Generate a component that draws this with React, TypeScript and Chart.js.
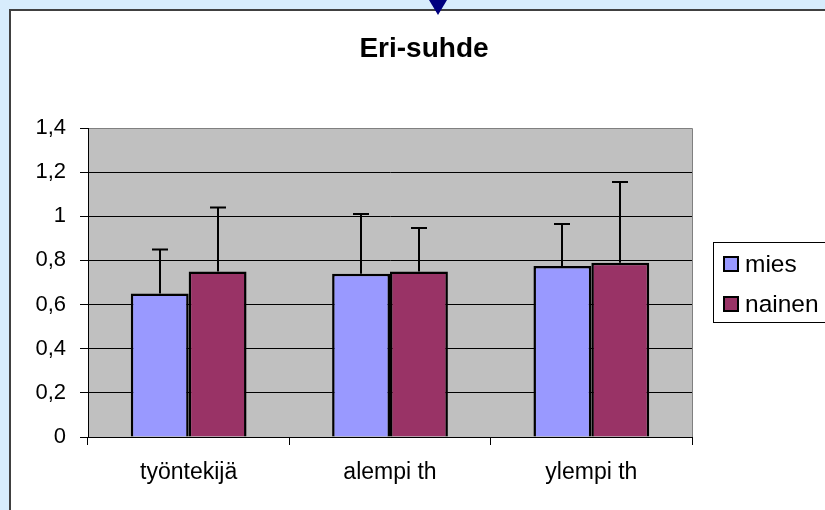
import React, { useEffect, useRef } from "react";
import { Chart, registerables } from "chart.js";

Chart.register(...registerables);

const categories = ["työntekijä", "alempi th", "ylempi th"];
const seriesNames = ["mies", "nainen"];
const miesValues = [0.65, 0.74, 0.775];
const nainenValues = [0.75, 0.75, 0.79];
const miesErrors = [0.2, 0.27, 0.19];
const nainenErrors = [0.29, 0.197, 0.365];
const yTicks = [0, 0.2, 0.4, 0.6, 0.8, 1, 1.2, 1.4];
const titleText = "Eri-suhde";

const FONT = '"Liberation Sans", Arial, sans-serif';
const COLORS = ["#9999FF", "#993366"];

export default function App() {
  const ref = useRef<HTMLCanvasElement | null>(null);

  useEffect(() => {
    const canvas = ref.current;
    if (!canvas) return;
    const errs = [miesErrors, nainenErrors];

    const decor = {
      id: "decor",
      beforeDraw(chart: any) {
        const ctx = chart.ctx;
        const a = chart.chartArea;
        ctx.save();
        ctx.fillStyle = "#D7ECFC";
        ctx.fillRect(0, 0, 825, 510);
        ctx.fillStyle = "#FFFFFF";
        ctx.fillRect(10, 10, 830, 520);
        ctx.strokeStyle = "#404040";
        ctx.lineWidth = 2;
        ctx.beginPath();
        ctx.moveTo(10, 530);
        ctx.lineTo(10, 10);
        ctx.lineTo(840, 10);
        ctx.stroke();
        // triangle marker
        ctx.fillStyle = "#00007F";
        ctx.beginPath();
        ctx.moveTo(429, 0);
        ctx.lineTo(447, 0);
        ctx.lineTo(438, 15);
        ctx.closePath();
        ctx.fill();
        // plot area
        ctx.fillStyle = "#C0C0C0";
        ctx.fillRect(a.left, a.top, a.right - a.left, a.bottom - a.top);
        ctx.strokeStyle = "#808080";
        ctx.lineWidth = 1;
        ctx.beginPath();
        ctx.moveTo(a.left, a.top + 0.5);
        ctx.lineTo(a.right + 0.5, a.top + 0.5);
        ctx.lineTo(a.right + 0.5, a.bottom);
        ctx.stroke();
        // title
        ctx.fillStyle = "#000";
        ctx.font = "bold 28px " + FONT;
        ctx.textAlign = "center";
        ctx.textBaseline = "alphabetic";
        ctx.fillText(titleText, 424, 57);
        ctx.restore();
      },
      afterDatasetsDraw(chart: any) {
        const ctx = chart.ctx;
        const yScale = chart.scales.y;
        ctx.save();
        ctx.strokeStyle = "#000";
        ctx.lineWidth = 2;
        chart.data.datasets.forEach((ds: any, di: number) => {
          const meta = chart.getDatasetMeta(di);
          meta.data.forEach((bar: any, i: number) => {
            const v = ds.data[i];
            const top = yScale.getPixelForValue(v + errs[di][i]);
            const x = Math.round(bar.x);
            ctx.beginPath();
            ctx.moveTo(x, bar.y);
            ctx.lineTo(x, top);
            ctx.moveTo(x - 8, top);
            ctx.lineTo(x + 8, top);
            ctx.stroke();
          });
        });
        ctx.restore();
      },
      afterDraw(chart: any) {
        const ctx = chart.ctx;
        ctx.save();
        // legend
        ctx.fillStyle = "#FFFFFF";
        ctx.fillRect(713, 242, 130, 80);
        ctx.strokeStyle = "#000";
        ctx.lineWidth = 1;
        ctx.strokeRect(713.5, 242.5, 130, 80);
        ctx.font = "24.5px " + FONT;
        ctx.textAlign = "left";
        ctx.textBaseline = "middle";
        const ys = [264, 304];
        seriesNames.forEach((name, i) => {
          ctx.fillStyle = COLORS[i];
          ctx.fillRect(724, ys[i] - 7, 14, 14);
          ctx.lineWidth = 2;
          ctx.strokeStyle = "#000";
          ctx.strokeRect(724, ys[i] - 7, 14, 14);
          ctx.fillStyle = "#000";
          ctx.fillText(name, 745, ys[i] + 1);
        });
        ctx.restore();
      },
    };

    const chart = new Chart(canvas, {
      type: "bar",
      data: {
        labels: categories,
        datasets: [
          {
            label: seriesNames[0],
            data: miesValues,
            backgroundColor: COLORS[0],
            borderColor: "#000",
            borderWidth: 2.5,
            categoryPercentage: 0.575,
            barPercentage: 1,
          },
          {
            label: seriesNames[1],
            data: nainenValues,
            backgroundColor: COLORS[1],
            borderColor: "#000",
            borderWidth: 2.5,
            categoryPercentage: 0.575,
            barPercentage: 1,
          },
        ],
      },
      options: {
        responsive: false,
        animation: false,
        devicePixelRatio: 1,
        layout: { padding: { left: 0, top: 128, right: 133, bottom: 0 } },
        plugins: {
          legend: { display: false },
          title: { display: false },
          tooltip: { enabled: false },
        },
        scales: {
          x: {
            afterFit: (s: any) => {
              s.height = 73;
            },
            grid: {
              offset: true,
              drawOnChartArea: false,
              drawTicks: true,
              tickLength: 8,
              color: "#000",
            },
            border: { display: true, color: "#000", width: 1 },
            ticks: {
              color: "#000",
              font: { family: FONT, size: 23 },
              padding: 14,
            },
          },
          y: {
            min: 0,
            max: 1.4,
            afterFit: (s: any) => {
              s.width = 88;
            },
            afterBuildTicks: (s: any) => {
              s.ticks = yTicks.map((v) => ({ value: v }));
            },
            grid: {
              color: (c: any) =>
                c.tick && Math.abs(c.tick.value - 1.4) < 1e-6 ? "#808080" : "#000",
              tickColor: "#000",
              tickLength: 8,
              drawTicks: true,
            },
            border: { display: true, color: "#000", width: 1 },
            ticks: {
              color: "#000",
              font: { family: FONT, size: 22 },
              padding: 14,
              callback: (v: any) => String(Math.round(Number(v) * 10) / 10).replace(".", ","),
            },
          },
        },
      },
      plugins: [decor],
    });

    return () => chart.destroy();
  }, []);

  return (
    <div style={{ position: "fixed", left: 0, top: 0, width: 825, height: 510 }}>
      <canvas ref={ref} width={825} height={510} style={{ display: "block", width: 825, height: 510 }} />
    </div>
  );
}
